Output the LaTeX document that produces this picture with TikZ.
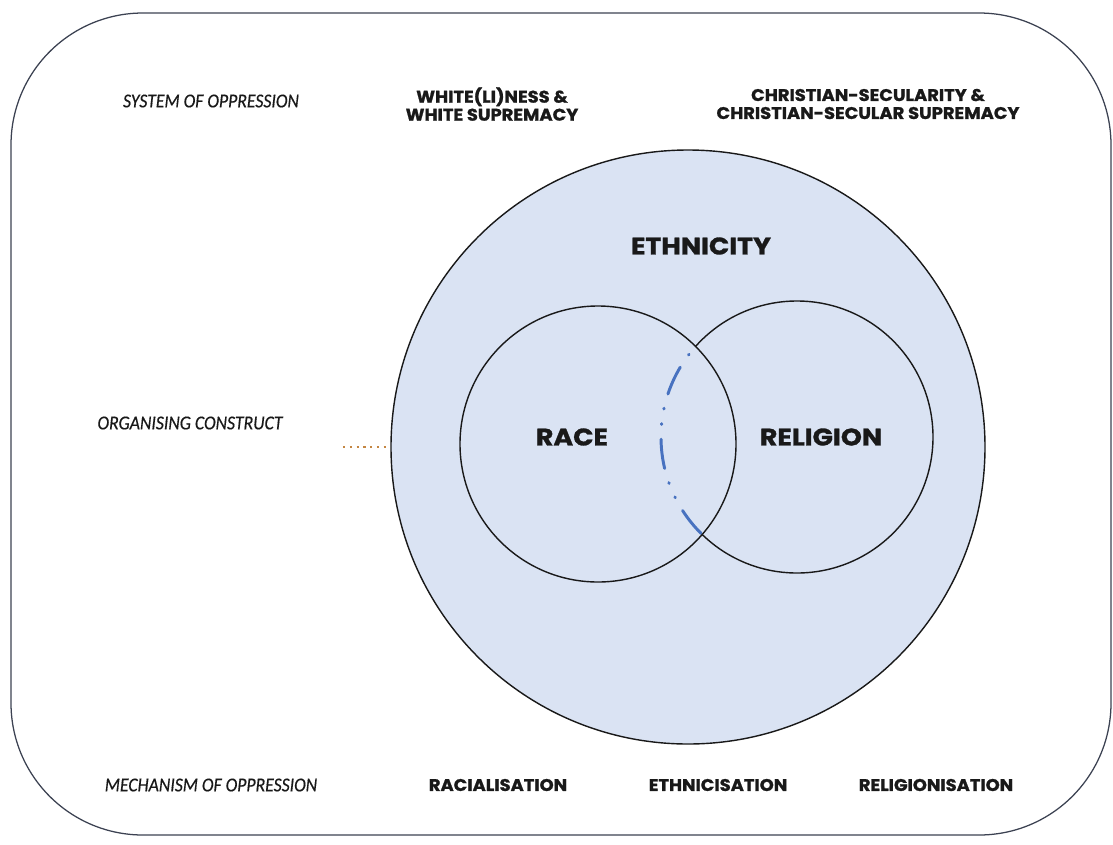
\documentclass[tikz,border=0pt]{standalone}
\usepackage{fontspec}
\setmainfont{Poppins}
\newfontfamily\capsfont{Poppins}[FakeStretch=1.06, FakeBold=1.2]
\newfontfamily\setfont{Poppins}[FakeStretch=1.12, FakeBold=1.2]
\newfontfamily\rowfont{Carlito}[FakeStretch=0.9, FakeBold=0.4]
\usetikzlibrary{positioning}

\definecolor{ethfill}{RGB}{218,227,243}
\definecolor{overlapblue}{RGB}{72,114,192}
\definecolor{frameline}{RGB}{60,66,82}
\definecolor{linkorange}{RGB}{196,134,66}

\tikzset{
  rowlabel/.style={font=\rowfont\itshape\fontsize{14}{16}\selectfont, text=black!90},
  headlabel/.style={font=\capsfont\bfseries\fontsize{12}{12.8}\selectfont, align=center, text=black!90},
  setlabel/.style={font=\setfont\bfseries\fontsize{17}{20}\selectfont, text=black!90},
  setline/.style={draw=black!90, line width=1pt},
}

\begin{document}
\begin{tikzpicture}[x=0.025cm, y=-0.025cm]
  \useasboundingbox (0,0) rectangle (1113,844);

  % outer frame
  \draw [frameline, line width=0.9pt, rounded corners=3.3cm] (11,13) rectangle (1111,835);

  % ethnicity, with race and religion inside
  \coordinate (ethc) at (688,447);
  \coordinate (racec) at (598,444);
  \coordinate (relc) at (797,437);
  \fill [ethfill] (ethc) circle [radius=297];
  \draw [setline] (ethc) circle [radius=297];
  \draw [setline] (relc) circle [radius=136];
  \begin{scope}
    \clip (racec) circle [radius=138];
    \draw [ethfill, line width=3pt] (relc) circle [radius=136];
    % dash, dot, dot along the hidden part of the religion circle
    \draw [overlapblue, line width=2.1pt, line cap=round,
           dash pattern=on 21pt off 10.5pt on 0.6pt off 10.5pt on 0.6pt off 10.5pt,
           dash phase=40.9pt] (relc) circle [radius=136];
  \end{scope}
  \draw [setline] (racec) circle [radius=138];

  \node [setlabel] (ethnicity) at (701,246) {ETHNICITY};
  \node [setlabel] (race) at (572,437) {RACE};
  \node [setlabel] (religion) at (821,437) {RELIGION};

  % row headings
  \node [rowlabel] (system) at (211,101) {SYSTEM OF OPPRESSION};
  \node [rowlabel] (construct) at (190,423) {ORGANISING CONSTRUCT};
  \node [rowlabel] (mechanism) at (211,785) {MECHANISM OF OPPRESSION};

  \node [headlabel] (whiteness) at (492,104) {WHITE(LI)NESS \&\\WHITE SUPREMACY};
  \node [headlabel] (secularity) at (868,104) {CHRISTIAN-SECULARITY \&\\CHRISTIAN-SECULAR SUPREMACY};

  \node [headlabel] (racialisation) at (498,785) {RACIALISATION};
  \node [headlabel] (ethnicisation) at (718,785) {ETHNICISATION};
  \node [headlabel] (religionisation) at (936,785) {RELIGIONISATION};

  % link to the construct row
  \coordinate (orgtip) at (343,447);
  \coordinate (ethwest) at (390,447);
  \draw [linkorange, line width=1.7pt, dash pattern=on 1.6pt off 3.2pt] (orgtip) -- (ethwest);
\end{tikzpicture}
\end{document}
